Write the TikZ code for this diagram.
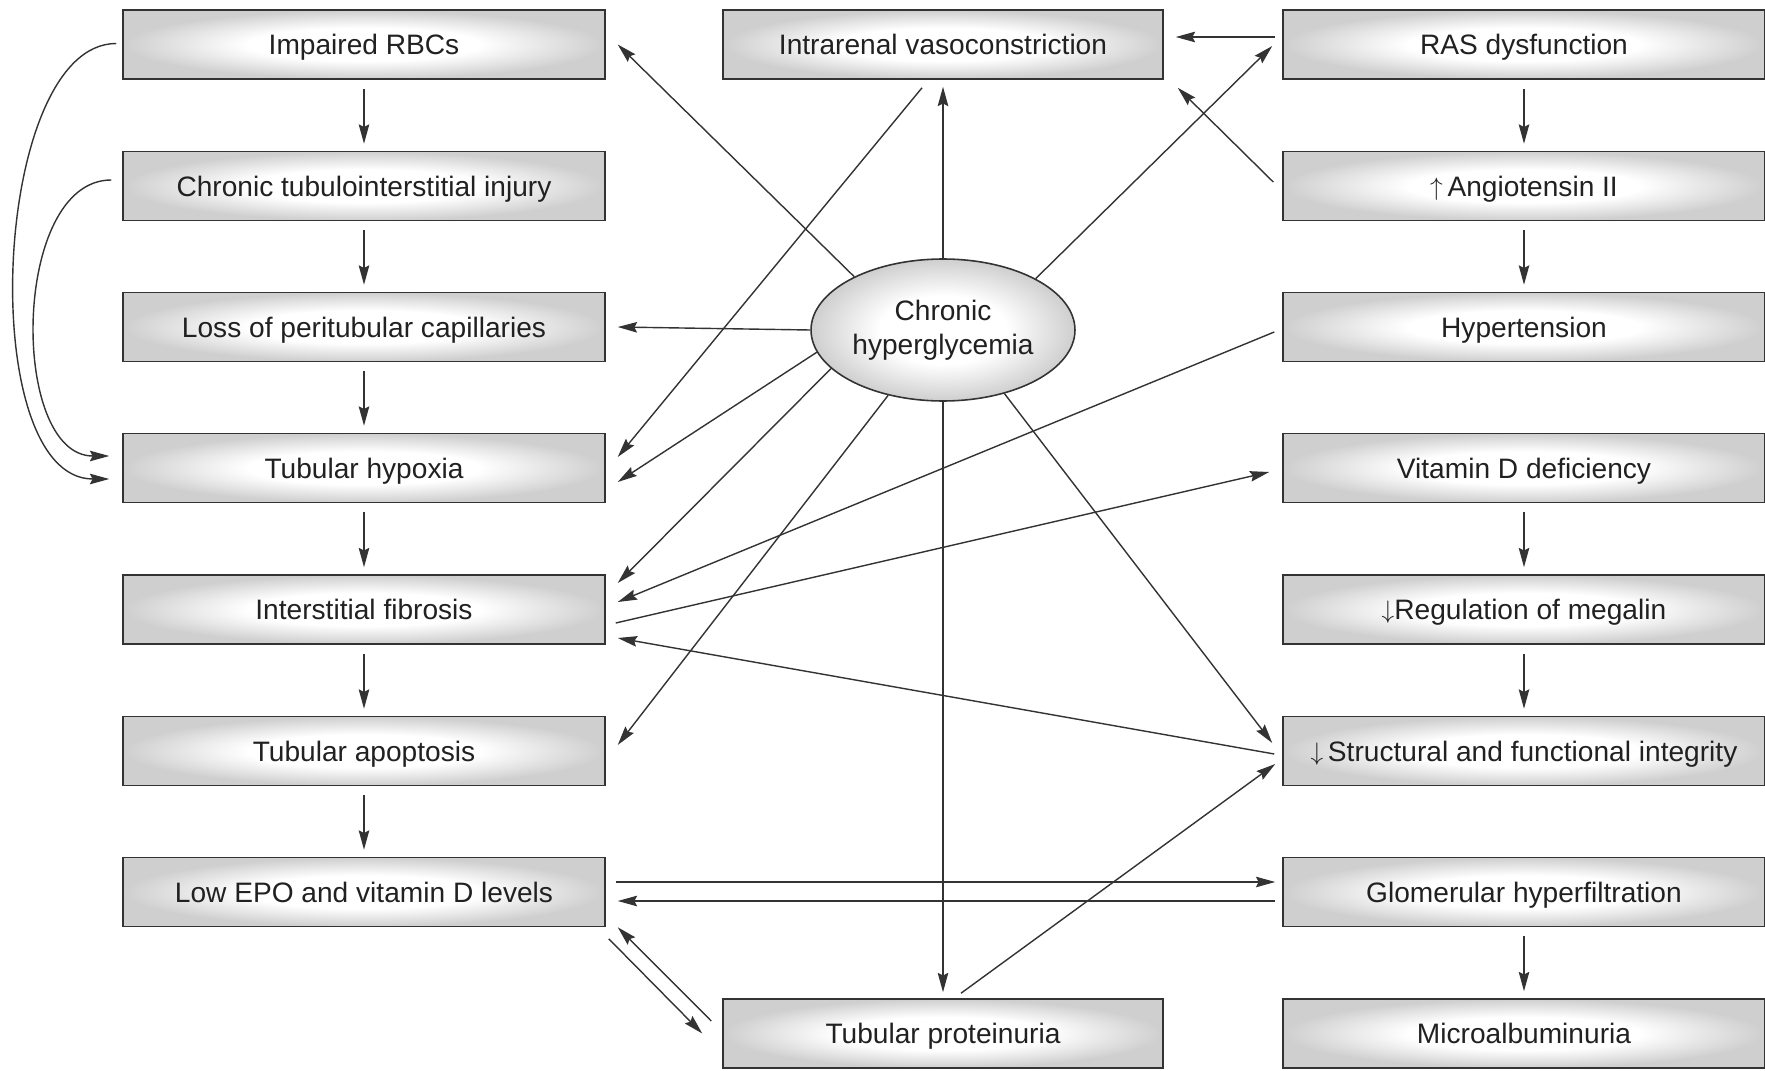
\documentclass[tikz,border=0pt]{standalone}
\usepackage{fontspec}
\setmainfont{Liberation Sans}
\usetikzlibrary{arrows.meta,shapes.geometric,calc,positioning}
\definecolor{boxgray}{gray}{0.81}
\definecolor{linegray}{gray}{0.2}
\definecolor{textgray}{gray}{0.13}
\pgfdeclareradialshading{boxshade}{\pgfpoint{0bp}{0bp}}{color(0bp)=(white); color(12bp)=(white); color(25bp)=(boxgray); color(50bp)=(boxgray)}
\newcommand{\incr}{\raisebox{0.4pt}{\fontsize{15}{15}\selectfont$\uparrow$}\,}
\newcommand{\decr}{\raisebox{0.4pt}{\fontsize{15}{15}\selectfont$\downarrow$}}

\begin{document}
\begin{tikzpicture}[x=0.02cm, y=-0.02cm,
  every node/.style={font=\fontsize{16}{19.5}\selectfont, text=textgray},
  box/.style={rectangle, draw=linegray, line width=0.9pt, shade, shading=boxshade,
              minimum width=9.64cm, minimum height=1.38cm, inner sep=0pt,
              text height=11.5pt, text depth=0pt},
  midbox/.style={box, minimum width=8.8cm},
  link/.style={draw=linegray, line width=0.8pt, -{Stealth[length=11pt,width=6pt,inset=1.5pt]}}]
  % Define dimensions
  \def\xl{364}
  \def\xm{943}
  \def\xr{1524}
  \useasboundingbox (0,0) rectangle (1765,1071);

  % Left column
  \node[box] (impaired) at (\xl,44.5) {Impaired RBCs};
  \node[box] (tubinj) at (\xl,186) {Chronic tubulointerstitial injury};
  \node[box] (loss) at (\xl,327) {Loss of peritubular capillaries};
  \node[box] (hypoxia) at (\xl,468) {Tubular hypoxia};
  \node[box] (fibrosis) at (\xl,609.5) {Interstitial fibrosis};
  \node[box] (apoptosis) at (\xl,751) {Tubular apoptosis};
  \node[box] (lowepo) at (\xl,892) {Low EPO and vitamin D levels};

  % Middle
  \node[midbox] (vasocon) at (\xm,44.5) {Intrarenal vasoconstriction};
  \node[midbox] (proteinuria) at (\xm,1033.5) {Tubular proteinuria};
  \node[ellipse, draw=linegray, line width=0.9pt, shade, shading=boxshade,
        minimum width=5.28cm, minimum height=2.84cm, inner sep=0pt, align=center]
        (glyc) at (\xm,330) {Chronic\\hyperglycemia};

  % Right column
  \node[box] (ras) at (\xr,44.5) {RAS dysfunction};
  \node[box] (angio) at (\xr,186) {\incr Angiotensin II};
  \node[box] (hypert) at (\xr,327) {Hypertension};
  \node[box] (vitd) at (\xr,468) {Vitamin D deficiency};
  \node[box] (megalin) at (\xr,609.5) {\decr Regulation of megalin};
  \node[box] (integrity) at (\xr,751) {\decr\,Structural and functional integrity};
  \node[box] (hyperfilt) at (\xr,892) {Glomerular hyperfiltration};
  \node[box] (microalb) at (\xr,1033.5) {Microalbuminuria};

  % Draw column arrows
  \foreach \a/\b in {impaired/tubinj, tubinj/loss, loss/hypoxia, hypoxia/fibrosis,
                     fibrosis/apoptosis, apoptosis/lowepo, ras/angio, angio/hypert,
                     vitd/megalin, megalin/integrity, hyperfilt/microalb}
      \draw[link] ($(\a.south)+(0,9)$) -- ($(\b.north)+(0,-7)$);

  % Curved arrows on the left
  \draw[link] ($(impaired.west)+(-6,-1)$) .. controls +(-125,0) and +(-135,0) .. ($(hypoxia.west)+(-13,11)$);
  \draw[link] ($(tubinj.west)+(-11,-6)$) .. controls +(-100,0) and +(-100,0) .. ($(hypoxia.west)+(-13,-12)$);

  % From hyperglycemia
  \draw[link] (glyc.149) -- ($(impaired.east)+(12,0)$);
  \draw[link] (glyc.north) -- ($(vasocon.south)+(0,7)$);
  \draw[link] (glyc.29) -- ($(ras.west)+(-10,1.5)$);
  \draw[link] (glyc.west) -- ($(loss.east)+(12,0)$);
  \draw[link] (glyc.190) -- ($(hypoxia.east)+(12,14)$);
  \draw[link] (glyc.199) -- ($(fibrosis.east)+(12,-26.5)$);
  \draw[link] (glyc.230) -- ($(apoptosis.east)+(12,-6)$);
  \draw[link] (glyc.south) -- ($(proteinuria.north)+(0,-6)$);
  \draw[link] (glyc.314) -- ($(integrity.west)+(-10,-8)$);

  % Cross links
  \draw[link] ($(vasocon.south)+(-21,8)$) -- ($(hypoxia.east)+(12,-11)$);
  \draw[link] ($(angio.west)+(-9,-4)$) -- ($(vasocon.south east)+(14,8)$);
  \draw[link] ($(ras.west)+(-7,-7.5)$) -- ($(vasocon.east)+(12,-7.5)$);
  \draw[link] ($(hypert.west)+(-8,5)$) -- ($(fibrosis.east)+(12,-7.5)$);
  \draw[link] ($(fibrosis.east)+(10,13.5)$) -- ($(vitd.west)+(-13,4)$);
  \draw[link] ($(integrity.west)+(-8,3)$) -- ($(fibrosis.east)+(12,28.5)$);
  \draw[link] ($(proteinuria.north)+(18,-5)$) -- ($(integrity.west)+(-7,13)$);
  \draw[link] ($(lowepo.east)+(10,-10)$) -- ($(hyperfilt.west)+(-7,-10)$);
  \draw[link] ($(hyperfilt.west)+(-7,9)$) -- ($(lowepo.east)+(12,9)$);
  \draw[link] ($(lowepo.south east)+(3,11.5)$) -- ($(proteinuria.west)+(-20,0)$);
  \draw[link] ($(proteinuria.west)+(-11,-12.5)$) -- ($(lowepo.south east)+(12,0)$);

\end{tikzpicture}
\end{document}
